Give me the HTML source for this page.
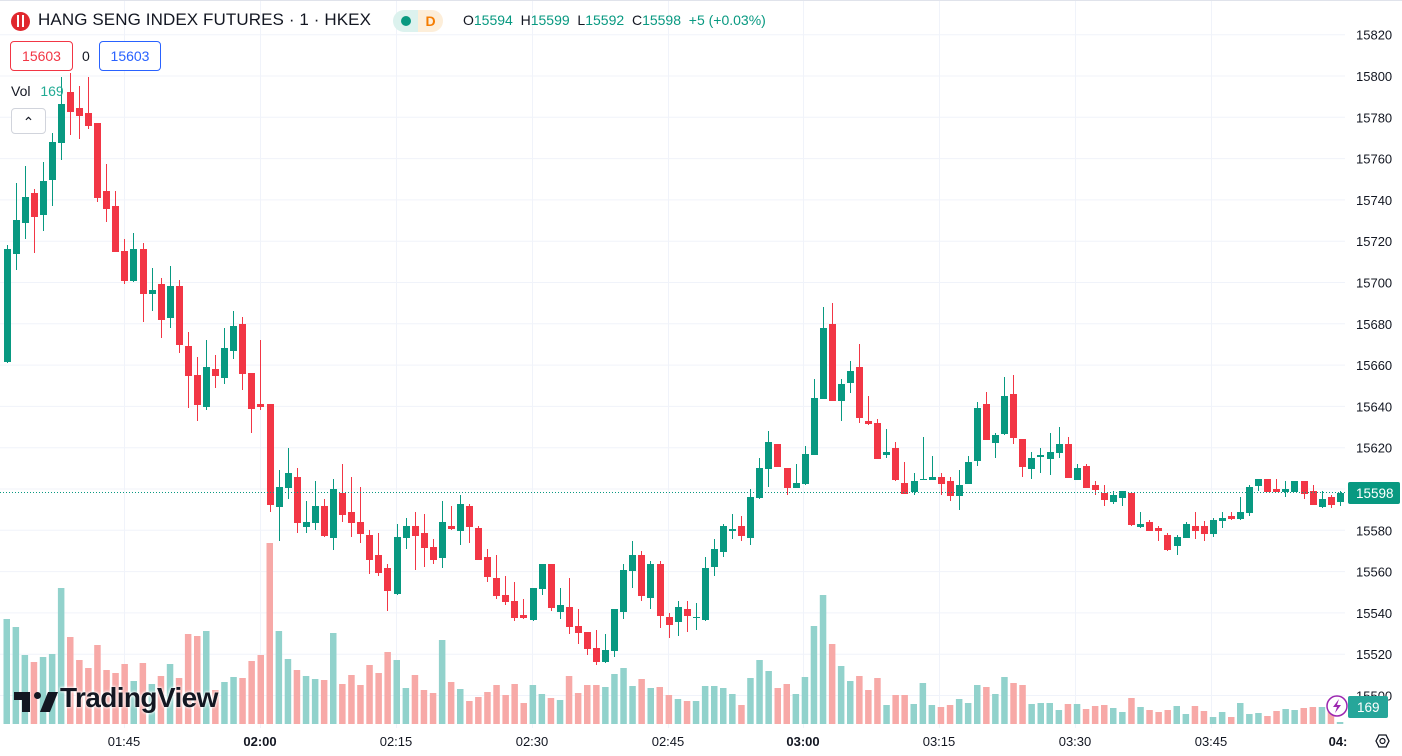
<!DOCTYPE html>
<html><head><meta charset="utf-8">
<style>
html,body{margin:0;padding:0;background:#fff;}
body{width:1402px;height:756px;overflow:hidden;position:relative;font-family:"Liberation Sans",sans-serif;color:#131722;}
svg{position:absolute;left:0;top:0;}
.hdr{position:absolute;left:38px;top:10px;font-size:17px;letter-spacing:0.1px;white-space:nowrap;}
.ohlc{position:absolute;left:463px;top:12px;font-size:14px;white-space:nowrap;color:#131722;}
.ohlc b{font-weight:normal;color:#089981;}
.box{position:absolute;top:41px;height:28px;line-height:28px;font-size:14px;text-align:center;border-radius:4px;background:#fff;}
</style></head><body>
<svg id="c" width="1402" height="756" xmlns="http://www.w3.org/2000/svg"></svg>
<div style="position:absolute;left:11px;top:12px;width:19px;height:19px;border-radius:50%;background:#e0282e;"></div>
<div style="position:absolute;left:17px;top:15px;width:2px;height:12px;background:#fff;"></div>
<div style="position:absolute;left:22px;top:15px;width:2px;height:12px;background:#fff;"></div>
<div class="hdr">HANG SENG INDEX FUTURES · 1 · HKEX</div>
<div style="position:absolute;left:393px;top:10px;width:25px;height:22px;background:#dcf2ee;border-radius:11px 0 0 11px;"></div>
<div style="position:absolute;left:401px;top:16px;width:10px;height:10px;border-radius:50%;background:#089981;"></div>
<div style="position:absolute;left:418px;top:10px;width:25px;height:22px;background:#fdeed9;border-radius:0 11px 11px 0;color:#f57c00;font-size:14px;font-weight:bold;line-height:22px;text-align:center;">D</div>
<div class="ohlc">O<b>15594</b>&nbsp; H<b>15599</b>&nbsp; L<b>15592</b>&nbsp; C<b>15598</b>&nbsp; <b>+5 (+0.03%)</b></div>
<div class="box" style="left:10px;width:61px;border:1px solid #f23645;color:#f23645;">15603</div>
<div style="position:absolute;left:82px;top:48px;font-size:14px;">0</div>
<div class="box" style="left:99px;width:60px;border:1px solid #2962ff;color:#2962ff;">15603</div>
<div style="position:absolute;left:11px;top:83px;font-size:14px;">Vol <span style="color:#22ab94;margin-left:6px;">169</span></div>
<div style="position:absolute;left:11px;top:108px;width:33px;height:24px;border:1px solid #d1d4dc;border-radius:4px;background:#fff;text-align:center;font-size:14px;line-height:26px;">&#8963;</div>
<div style="position:absolute;left:14px;top:682px;font-size:28px;font-weight:bold;letter-spacing:-0.6px;color:#131722;text-shadow:0 0 3px #fff,0 0 3px #fff;white-space:nowrap;">
<span style="display:inline-block;width:46px;height:24px;position:relative;vertical-align:middle;"><span style="position:absolute;left:0;top:4px;width:16px;height:8px;background:#131722;"></span><span style="position:absolute;left:8px;top:4px;width:8px;height:20px;background:#131722;"></span><span style="position:absolute;left:20px;top:4px;width:7px;height:7px;border-radius:50%;background:#131722;"></span><span style="position:absolute;left:30px;top:4px;width:10px;height:20px;background:#131722;transform:skewX(-22deg);"></span></span>TradingView</div>
<script>
var D=[
["g",249,362,245,363],["g",220,254,183,270],["g",197,223,166,239],["r",193,217,189,253],["g",181,215,162,231],["g",142,180,133,206],["g",104,143,77,160],["r",92,112,73,135],["r",108,116,86,139],["r",113,126,77,129],
["r",123,198,123,202],["r",191,209,164,222],["r",206,252,191,252],["r",251,281,239,284],["g",249,281,233,282],["r",249,294,243,322],["g",290,294,268,311],["r",284,320,278,338],["g",286,318,266,328],["r",286,345,280,353],
["r",346,376,332,408],["r",375,405,357,421],["g",367,407,340,410],["r",369,376,355,388],["g",348,378,328,384],["g",326,351,311,359],["r",324,374,317,390],["r",373,409,373,433],["r",404,407,340,410],["r",404,505,404,512],
["g",487,507,470,541],["g",473,488,448,499],["r",477,523,468,533],["g",522,527,501,533],["g",506,523,481,530],["r",506,536,499,537],["g",489,538,479,550],["r",493,515,464,522],["r",512,523,477,537],["r",522,534,487,543],
["r",535,560,530,574],["r",555,573,533,576],["r",568,591,564,611],["g",537,594,524,595],["g",526,538,518,549],["r",526,536,512,570],["r",533,548,514,567],["r",547,560,539,564],["g",522,558,501,568],["r",526,529,506,530],
["g",504,531,495,545],["r",506,527,504,543],["r",528,560,526,560],["r",557,577,549,582],["r",578,596,555,599],["r",595,602,576,605],["r",601,618,582,621],["r",615,618,599,619],["g",588,620,588,621],["g",564,589,564,595],
["r",564,608,564,611],["g",605,612,588,619],["r",607,627,578,634],["r",626,633,609,644],["r",632,649,632,655],["r",648,662,630,665],["g",650,662,634,663],["g",609,651,609,657],["g",570,612,564,619],["g",555,571,541,588],
["r",555,596,551,601],["g",564,598,561,609],["r",564,616,561,628],["r",617,625,613,638],["g",607,622,601,636],["r",609,616,601,632],["g",617,618,603,630],["g",568,620,557,621],["g",549,567,539,576],["g",526,552,524,557],
["g",529,531,514,539],["r",526,536,516,541],["g",497,538,489,545],["g",468,498,458,499],["g",442,469,431,487],["r",444,467,444,467],["r",468,488,468,495],["g",483,488,464,488],["g",454,484,446,485],["g",398,455,379,455],
["g",328,399,307,399],["r",324,401,303,401],["g",384,401,379,421],["g",371,383,361,393],["r",367,418,344,423],["r",421,424,396,425],["r",423,459,419,459],["g",452,455,429,458],["r",448,480,442,481],["r",483,494,462,494],
["g",481,492,473,495],["g",479,480,437,480],["g",477,480,456,480],["r",477,484,473,495],["r",481,496,477,501],["g",485,496,470,510],["g",462,484,456,484],["g",408,461,402,466],["r",404,440,392,440],["g",435,443,433,458],
["g",396,434,377,435],["r",394,438,375,444],["r",439,467,439,477],["g",458,469,452,479],["g",455,457,448,473],["g",452,459,433,475],["g",444,453,427,458],["r",444,478,437,478],["g",468,480,464,480],["r",466,488,464,488],
["r",485,490,481,495],["r",493,500,485,506],["g",495,502,491,504],["g",491,498,491,506],["r",493,525,493,526],["g",524,527,512,528],["r",522,531,520,531],["r",528,531,526,541],["r",535,550,533,551],["g",537,546,535,555],
["g",524,538,522,538],["r",526,531,512,539],["r",526,534,521,541],["g",520,534,518,537],["g",518,521,512,528],["r",516,519,512,520],["g",512,519,497,520],["g",487,513,485,516],["g",479,486,479,491],["r",479,492,479,492],
["r",489,492,479,492],["g",489,492,481,497],["g",481,492,481,492],["r",481,494,481,499],["r",491,505,485,505],["g",499,507,491,508],["r",497,505,495,508],["g",493,502,491,506]];
var V=[619,627,655,662,657,654,588,637,660,668,645,670,673,664,681,663,684,676,664,678,634,636,631,690,682,677,678,661,655,543,631,659,670,676,679,680,633,684,675,685,665,673,652,660,688,675,690,693,640,682,689,701,697,692,685,695,684,703,685,694,698,700,676,693,685,685,687,674,668,686,679,688,687,695,699,701,701,686,686,688,694,705,678,660,671,688,684,694,677,626,595,644,666,681,676,690,678,705,695,695,704,683,705,707,705,699,703,685,687,694,677,683,685,704,703,703,710,704,704,709,706,705,708,712,698,707,710,712,710,706,714,706,711,717,712,717,703,714,713,716,711,709,710,708,707,707,710,722];
var s='';
for(var i=0;i<17;i++){var y=34.7+i*41.3;s+='<line x1="0" x2="1345" y1="'+y.toFixed(1)+'" y2="'+y.toFixed(1)+'" stroke="#f0f3fa" stroke-width="1"/>';}
var tx=[124,260,396,532,668,803,939,1075,1211];
tx.forEach(function(x){s+='<line x1="'+(x+0.5)+'" x2="'+(x+0.5)+'" y1="0" y2="728" stroke="#f0f3fa"/>';});
s+='<line x1="0" x2="1402" y1="0.5" y2="0.5" stroke="#e0e3eb"/>';
for(var n=0;n<D.length;n++){var x=6.5+9.07*n;var col=D[n][0]=='g'?'#92d2cc':'#f7a9a7';var t=V[n]||715;
s+='<rect x="'+(x-3).toFixed(1)+'" y="'+t+'" width="6.5" height="'+(724-t)+'" fill="'+col+'"/>';}
for(var n=0;n<D.length;n++){var d=D[n];var x=6.5+9.07*n;var col=d[0]=='g'?'#089981':'#f23645';
var xc=Math.round(x);
s+='<rect x="'+xc+'" y="'+d[3]+'" width="1" height="'+Math.max(1,d[4]-d[3])+'" fill="'+col+'"/>';
s+='<rect x="'+(xc-3)+'" y="'+d[1]+'" width="7" height="'+Math.max(1,d[2]-d[1])+'" fill="'+col+'"/>';}
s+='<line x1="0" x2="1345" y1="492.5" y2="492.5" stroke="#089981" stroke-dasharray="1,2"/>';
var P=[15820,15800,15780,15760,15740,15720,15700,15680,15660,15640,15620,15600,15580,15560,15540,15520,15500];
P.forEach(function(p,i){var y=34.7+i*41.3;s+='<text x="1356" y="'+(y+5).toFixed(1)+'" font-size="13" fill="#131722" font-family="Liberation Sans">'+p+'</text>';});
s+='<rect x="1348" y="482" width="52" height="22" rx="2" fill="#089981"/><text x="1356" y="498" font-size="13.5" fill="#fff" font-family="Liberation Sans">15598</text>';
s+='<rect x="1348" y="696" width="40" height="22" rx="2" fill="#26a69a"/><text x="1357" y="712" font-size="13.5" fill="#fff" font-family="Liberation Sans">169</text>';
s+='<circle cx="1337" cy="706" r="10" fill="#fff" stroke="#9c27b0" stroke-width="1.5"/><path d="M1339 699 L1333 707 L1337 707 L1335 713 L1341 705 L1337 705 Z" fill="#9c27b0"/>';
var TL=[["01:45",124,0],["02:00",260,1],["02:15",396,0],["02:30",532,0],["02:45",668,0],["03:00",803,1],["03:15",939,0],["03:30",1075,0],["03:45",1211,0],["04:",1338,1]];
TL.forEach(function(t){s+='<text x="'+t[1]+'" y="746" text-anchor="middle" font-size="13" fill="#131722" font-family="Liberation Sans"'+(t[2]?' font-weight="bold"':'')+'>'+t[0]+'</text>';});
s+='<polygon points="1376,741 1379,735 1386,735 1389,741 1386,747 1379,747" fill="none" stroke="#131722" stroke-width="1.3"/><circle cx="1382.5" cy="741" r="2.5" fill="none" stroke="#131722" stroke-width="1.2"/>';
document.getElementById('c').innerHTML=s;
</script>
</body></html>
